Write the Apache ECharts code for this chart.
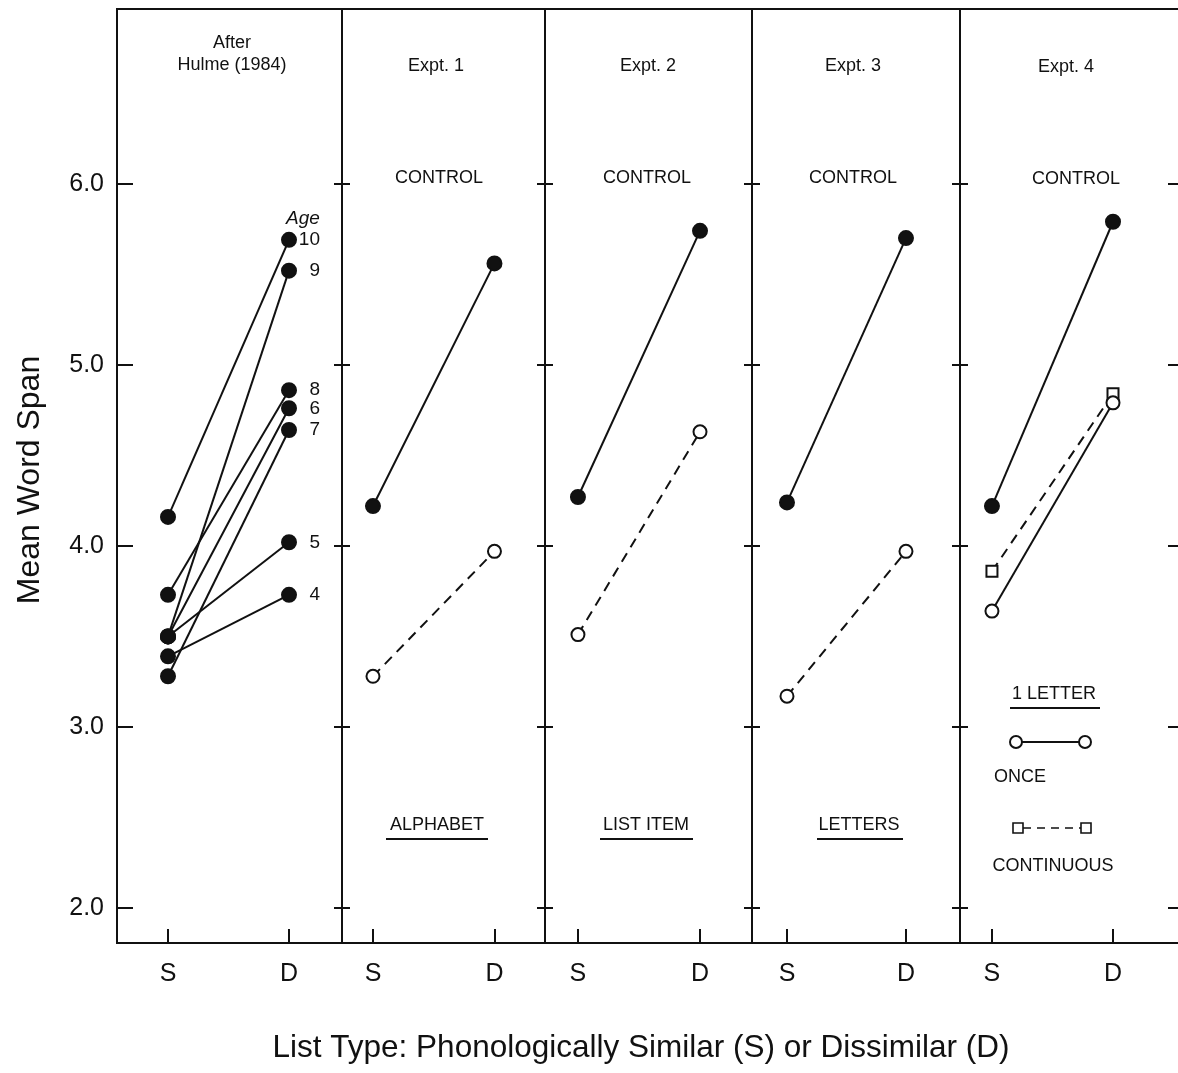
<!DOCTYPE html>
<html>
<head>
<meta charset="utf-8">
<script src="https://cdn.jsdelivr.net/npm/echarts@6/dist/echarts.min.js"></script>
<style>
html,body{margin:0;padding:0;background:#fff;}
#main{width:1178px;height:1073px;}
</style>
</head>
<body>
<div id="main"></div>
<script>
/* data */
var ages = ['4', '5', '6', '7', '8', '9', '10'];
var hulmeS = [3.39, 3.50, 3.50, 3.28, 3.73, 3.50, 4.16];
var hulmeD = [3.73, 4.02, 4.76, 4.64, 4.86, 5.52, 5.69];

var exp1Control = [4.22, 5.56];
var exp1Alphabet = [3.28, 3.97];
var exp2Control = [4.27, 5.74];
var exp2ListItem = [3.51, 4.63];
var exp3Control = [4.24, 5.70];
var exp3Letters = [3.17, 3.97];
var exp4Control = [4.22, 5.79];
var exp4Continuous = [3.86, 4.84];
var exp4Once = [3.64, 4.79];

var listTypes = ['S', 'D'];
var yTicks = [2, 3, 4, 5, 6];

var FONT = '"Liberation Sans", Arial, Helvetica, sans-serif';
var INK = '#111';

/* panel layout: [left, width, xmin, xmax] */
var panels = [
  [117, 225, -0.4215, 1.438],
  [342, 203, -0.255, 1.416],
  [545, 207, -0.27, 1.426],
  [752, 208, -0.294, 1.454],
  [960, 222, -0.264, 1.570]
];

var chart = echarts.init(document.getElementById('main'));

var grids = [], xAxes = [], yAxes = [], series = [];

panels.forEach(function (p, i) {
  grids.push({
    left: p[0], top: 9, width: p[1], height: 934,
    outerBoundsMode: 'none', containLabel: false,
    show: true, borderColor: INK, borderWidth: 2, backgroundColor: 'transparent'
  });
  xAxes.push({
    type: 'value', gridIndex: i, min: p[2], max: p[3],
    axisLine: { show: false, onZero: false },
    splitLine: { show: false },
    axisTick: { show: true, inside: true, length: 14, customValues: [0, 1], lineStyle: { color: INK, width: 2 } },
    axisLabel: {
      show: true, customValues: [0, 1], margin: 19,
      fontFamily: FONT, fontSize: 25, color: INK,
      formatter: function (v) { return listTypes[Math.round(v)]; }
    }
  });
  // left axis of every panel
  yAxes.push({
    type: 'value', gridIndex: i, position: 'left', min: 1.807, max: 6.965,
    axisLine: { show: false, onZero: false },
    splitLine: { show: false },
    axisTick: { show: true, inside: true, length: i === 0 ? 16 : 8, customValues: yTicks, lineStyle: { color: INK, width: 2 } },
    axisLabel: {
      show: i === 0, customValues: yTicks, margin: 13,
      fontFamily: FONT, fontSize: 25, color: INK,
      formatter: function (v) { return v.toFixed(1); }
    }
  });
  // right axis (ticks to the left of the divider)
  yAxes.push({
    type: 'value', gridIndex: i, position: 'right', min: 1.807, max: 6.965,
    axisLine: { show: false, onZero: false },
    splitLine: { show: false },
    axisTick: { show: true, inside: true, length: i === 4 ? 14 : 8, customValues: yTicks, lineStyle: { color: INK, width: 2 } },
    axisLabel: { show: false }
  });
});

function pair(v) { return [[0, v[0]], [1, v[1]]]; }

function lineSeries(gi, vals, symbol, size, dashed, extra) {
  var s = {
    type: 'line', xAxisIndex: gi, yAxisIndex: gi * 2,
    data: pair(vals),
    symbol: symbol, symbolSize: size, showAllSymbol: true,
    lineStyle: { color: INK, width: 2, type: dashed ? [10, 7] : 'solid' },
    itemStyle: { color: INK, borderColor: INK, borderWidth: 2 },
    emphasis: { disabled: true },
    silent: true, animation: false, z: 3
  };
  if (extra) Object.assign(s, extra);
  return s;
}

/* After Hulme (1984): one line per age */
ages.forEach(function (a, k) {
  series.push(lineSeries(0, [hulmeS[k], hulmeD[k]], 'circle', 14, false, {
    label: {
      show: true, position: 'right', distance: 23, align: 'right',
      fontFamily: FONT, fontSize: 19, color: INK,
      formatter: function (p) { return p.dataIndex === 1 ? a : ''; }
    }
  }));
});

series.push(lineSeries(1, exp1Control, 'circle', 14, false));
series.push(lineSeries(1, exp1Alphabet, 'emptyCircle', 13, true));
series.push(lineSeries(2, exp2Control, 'circle', 14, false));
series.push(lineSeries(2, exp2ListItem, 'emptyCircle', 13, true));
series.push(lineSeries(3, exp3Control, 'circle', 14, false));
series.push(lineSeries(3, exp3Letters, 'emptyCircle', 13, true));
series.push(lineSeries(4, exp4Control, 'circle', 14, false));
series.push(lineSeries(4, exp4Continuous, 'emptyRect', 11, true));
series.push(lineSeries(4, exp4Once, 'emptyCircle', 13, false));

function txt(x, y, s, size, extra) {
  var st = { text: s, x: x, y: y, fill: INK, font: (size || 18) + 'px ' + FONT, align: 'center', verticalAlign: 'middle' };
  if (extra) Object.assign(st, extra);
  return { type: 'text', style: st, silent: true };
}
function seg(x1, y1, x2, y2, dash) {
  return { type: 'line', shape: { x1: x1, y1: y1, x2: x2, y2: y2 }, style: { stroke: INK, lineWidth: dash ? 1.6 : 2, lineDash: dash || null }, silent: true };
}

var graphics = [
  {
    type: 'text', x: 30, y: 480, rotation: Math.PI / 2, silent: true,
    style: { text: 'Mean Word Span', fill: INK, font: '32px ' + FONT, align: 'center', verticalAlign: 'middle' }
  },
  txt(232, 54, 'After\nHulme (1984)', 18, { lineHeight: 22 }),
  txt(436, 66, 'Expt. 1'),
  txt(648, 66, 'Expt. 2'),
  txt(853, 66, 'Expt. 3'),
  txt(1066, 67, 'Expt. 4'),
  txt(439, 178, 'CONTROL'),
  txt(647, 178, 'CONTROL'),
  txt(853, 178, 'CONTROL'),
  txt(1076, 179, 'CONTROL'),
  txt(303, 219, 'Age', 18, { font: 'italic 19px ' + FONT }),
  txt(437, 825, 'ALPHABET'),
  seg(386, 839, 488, 839),
  txt(646, 825, 'LIST ITEM'),
  seg(600, 839, 693, 839),
  txt(859, 825, 'LETTERS'),
  seg(817, 839, 903, 839),
  txt(1054, 694, '1 LETTER'),
  seg(1010, 708, 1100, 708),
  seg(1022, 742, 1079, 742),
  { type: 'circle', shape: { cx: 1016, cy: 742, r: 6 }, style: { fill: '#fff', stroke: INK, lineWidth: 2 }, silent: true },
  { type: 'circle', shape: { cx: 1085, cy: 742, r: 6 }, style: { fill: '#fff', stroke: INK, lineWidth: 2 }, silent: true },
  txt(1020, 777, 'ONCE'),
  seg(1023, 828, 1081, 828, [8, 6]),
  { type: 'rect', shape: { x: 1013, y: 823, width: 10, height: 10 }, style: { fill: '#fff', stroke: INK, lineWidth: 1.6 }, silent: true },
  { type: 'rect', shape: { x: 1081, y: 823, width: 10, height: 10 }, style: { fill: '#fff', stroke: INK, lineWidth: 1.6 }, silent: true },
  txt(1053, 866, 'CONTINUOUS'),
  txt(641, 1048, 'List Type: Phonologically Similar (S) or Dissimilar (D)', 31.5)
];

var option = {
  backgroundColor: '#fff',
  animation: false,
  grid: grids,
  xAxis: xAxes,
  yAxis: yAxes,
  series: series,
  graphic: graphics
};
chart.setOption(option);
</script>
</body>
</html>
